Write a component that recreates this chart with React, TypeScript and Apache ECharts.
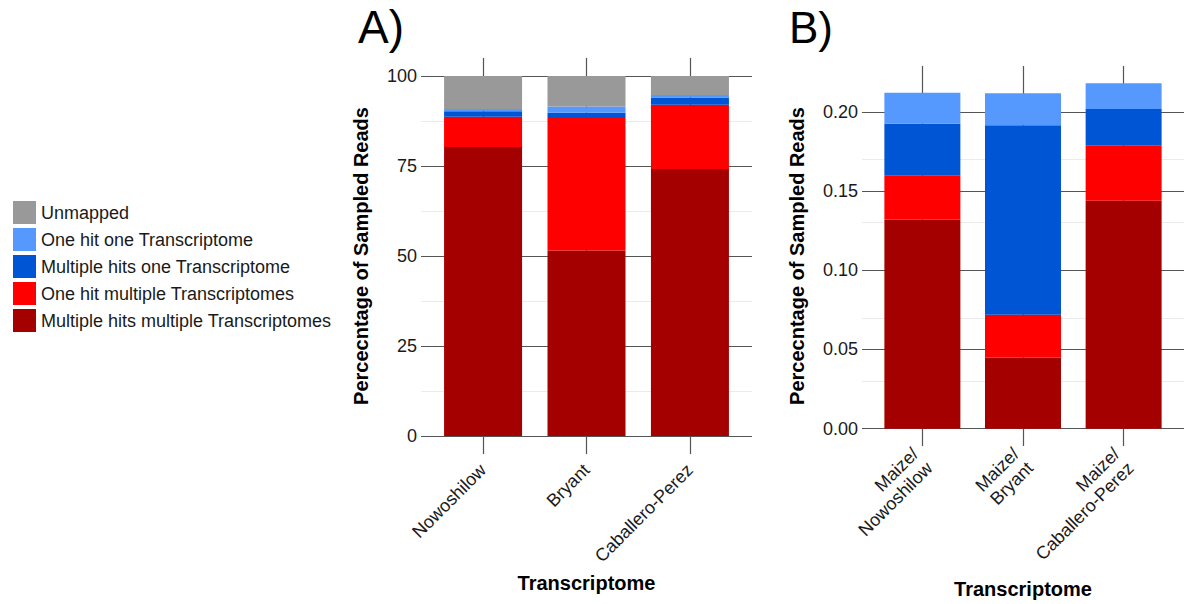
import React, { useEffect, useRef } from "react";
import * as echarts from "echarts";

const seriesNames = [
  "Multiple hits multiple Transcriptomes",
  "One hit multiple Transcriptomes",
  "Multiple hits one Transcriptome",
  "One hit one Transcriptome",
  "Unmapped",
];
const seriesColors = ["#A50000", "#FF0000", "#0055D4", "#5599FF", "#999999"];
const legendOrder = [
  "Unmapped",
  "One hit one Transcriptome",
  "Multiple hits one Transcriptome",
  "One hit multiple Transcriptomes",
  "Multiple hits multiple Transcriptomes",
];

const categoriesA = ["Nowoshilow", "Bryant", "Caballero-Perez"];
const categoriesB = ["Maize/\nNowoshilow", "Maize/\nBryant", "Maize/\nCaballero-Perez"];

// Panel A (percent), stacked bottom -> top
const multiMultiA = [80.3, 51.5, 74.2];
const oneMultiA = [8.4, 36.8, 17.8];
const multiOneA = [1.5, 1.5, 2.0];
const oneOneA = [0.6, 1.7, 0.7];
const unmappedA = [9.2, 8.5, 5.3];

// Panel B
const multiMultiB = [0.132, 0.045, 0.1438];
const oneMultiB = [0.028, 0.027, 0.0347];
const multiOneB = [0.0325, 0.1195, 0.0232];
const oneOneB = [0.0195, 0.0202, 0.0163];
const unmappedB = [0, 0, 0];

const ticksA = [0, 25, 50, 75, 100];
const minorTicksA = [12.5, 37.5, 62.5, 87.5];
const ticksB = [0, 0.05, 0.1, 0.15, 0.2];
const minorTicksB = [0.025, 0.075, 0.125, 0.175, 0.225];
const positions = [1, 2, 3];

const FONT = "'Liberation Sans', Arial, sans-serif";
const DARK = "#555555";
const LIGHT = "#ebebeb";

export default function App() {
  const ref = useRef<HTMLDivElement>(null);
  useEffect(() => {
    if (!ref.current) return;
    const chart = echarts.init(ref.current, undefined, { renderer: "svg" });

    const dataA = [multiMultiA, oneMultiA, multiOneA, oneOneA, unmappedA];
    const dataB = [multiMultiB, oneMultiB, multiOneB, oneOneB, unmappedB];

    const gridLines = (majors: number[], minors: number[]) => ({
      silent: true,
      symbol: "none",
      z: 1,
      label: { show: false },
      data: [
        ...minors.map((v) => ({ yAxis: v, lineStyle: { color: LIGHT, width: 1, type: "solid" } })),
        ...majors.map((v) => ({ yAxis: v, lineStyle: { color: DARK, width: 1.2, type: "solid" } })),
        ...positions.map((p) => ({ xAxis: p, lineStyle: { color: DARK, width: 1.2, type: "solid" } })),
      ],
    });

    const makeSeries = (data: number[][], idx: number, stack: string, barWidth: number, ml: any) =>
      data.map((vals, i) => ({
        name: seriesNames[i],
        type: "bar",
        xAxisIndex: idx,
        yAxisIndex: idx,
        stack,
        barWidth,
        z: 3,
        encode: { x: 1, y: 0 },
        itemStyle: { color: seriesColors[i] },
        data: vals.map((v, j) => [v, positions[j]]),
        ...(i === 0 ? { markLine: ml } : {}),
      }));

    const yAxisCommon = {
      type: "value",
      nameLocation: "middle",
      nameTextStyle: { fontFamily: FONT, fontSize: 20, fontWeight: "bold", color: "#000" },
      axisLine: { show: false },
      axisTick: { show: false },
      splitLine: { show: false },
    };
    const xAxisCommon = {
      type: "value",
      min: 0.4,
      max: 3.6,
      name: "Transcriptome",
      nameLocation: "middle",
      nameTextStyle: { fontFamily: FONT, fontSize: 20, fontWeight: "bold", color: "#000" },
      axisLine: { show: false },
      axisTick: { show: false, customValues: positions },
      splitLine: { show: false },
    };

    chart.setOption({
      animation: false,
      textStyle: { fontFamily: FONT },
      title: [
        { text: "A)", left: 353, top: -1, textStyle: { fontFamily: FONT, fontSize: 46, fontWeight: "normal", color: "#000" } },
        { text: "B)", left: 784, top: 0, textStyle: { fontFamily: FONT, fontSize: 44, fontWeight: "normal", color: "#000" } },
      ],
      legend: {
        orient: "vertical",
        left: 8,
        top: 196,
        itemWidth: 23,
        itemHeight: 23,
        itemGap: 4,
        icon: "rect",
        data: legendOrder,
        textStyle: { fontFamily: FONT, fontSize: 18, color: "#1a1a1a" },
      },
      grid: [
        { left: 421, top: 58, width: 331, height: 396 },
        { left: 862, top: 66, width: 326, height: 380 },
      ],
      xAxis: [
        {
          ...xAxisCommon,
          gridIndex: 0,
          nameGap: 119,
          axisLabel: {
            customValues: positions,
            rotate: 45,
            margin: 13,
            fontFamily: FONT,
            fontSize: 18,
            color: "#1a1a1a",
            formatter: (v: number) => categoriesA[Math.round(v) - 1] ?? "",
          },
        },
        {
          ...xAxisCommon,
          gridIndex: 1,
          nameGap: 133,
          axisLabel: {
            customValues: positions,
            rotate: 45,
            margin: 12,
            fontFamily: FONT,
            fontSize: 18,
            lineHeight: 20,
            color: "#1a1a1a",
            formatter: (v: number) => categoriesB[Math.round(v) - 1] ?? "",
          },
        },
      ],
      yAxis: [
        {
          ...yAxisCommon,
          gridIndex: 0,
          min: -5,
          max: 105,
          name: "Percecntage of Sampled Reads",
          nameGap: 50,
          axisLabel: { customValues: ticksA, margin: 4, fontFamily: FONT, fontSize: 18, color: "#1a1a1a" },
        },
        {
          ...yAxisCommon,
          gridIndex: 1,
          min: -0.0109,
          max: 0.2289,
          name: "Percecntage of Sampled Reads",
          nameGap: 55,
          axisLabel: {
            customValues: ticksB,
            margin: 4,
            fontFamily: FONT,
            fontSize: 18,
            color: "#1a1a1a",
            formatter: (v: number) => v.toFixed(2),
          },
        },
      ],
      series: [
        ...makeSeries(dataA, 0, "A", 78, gridLines(ticksA, minorTicksA)),
        ...makeSeries(dataB, 1, "B", 76, gridLines(ticksB, minorTicksB)),
      ],
    });
    return () => chart.dispose();
  }, []);
  return (
    <div
      ref={ref}
      style={{ position: "absolute", left: 0, top: 0, width: 1184, height: 604, background: "#fff" }}
    />
  );
}
